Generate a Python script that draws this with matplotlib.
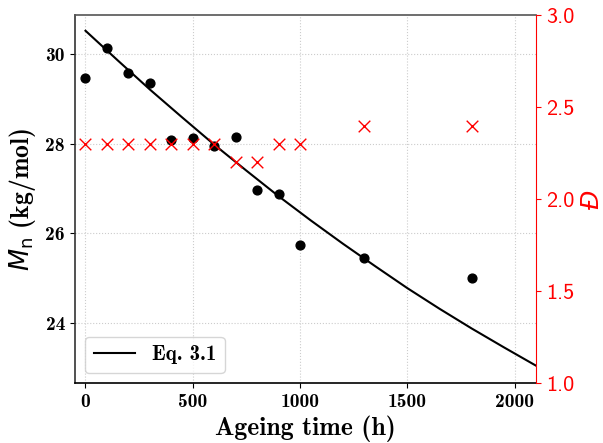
import matplotlib
matplotlib.use('Agg')
import matplotlib.pyplot as plt

# measured data
ageing_time = [0, 100, 200, 300, 400, 500, 600, 700, 800, 900, 1000, 1300, 1800]
mn = [29.46, 30.13, 29.58, 29.35, 28.08, 28.12, 27.96, 28.16, 26.97, 26.88, 25.74, 25.46, 25.00]
dispersity = [2.3, 2.3, 2.3, 2.3, 2.3, 2.3, 2.3, 2.2, 2.2, 2.3, 2.3, 2.4, 2.4]

# Eq. 3.1 curve
eq_time = [0, 150, 300, 450, 600, 750, 900, 1050, 1200, 1350, 1500, 1650, 1800, 1950, 2100]
eq_mn = [30.52, 29.86, 29.21, 28.59, 27.98, 27.40, 26.83, 26.29, 25.77, 25.27,
         24.78, 24.32, 23.88, 23.46, 23.05]

plt.rcParams['mathtext.fontset'] = 'dejavusans'
plt.rcParams['axes.unicode_minus'] = False

fig, ax = plt.subplots(figsize=(6.03, 4.43), dpi=100)
fig.subplots_adjust(left=0.124, right=0.889, bottom=0.135, top=0.966)

ax.plot(eq_time, eq_mn, color='black', lw=1.5, label='Eq. 3.1', zorder=3)
ax.scatter(ageing_time, mn, color='black', s=40, zorder=4)
ax.set_xlim(-50, 2100)
ax.set_ylim(22.66, 30.87)
ax.set_xticks([0, 500, 1000, 1500, 2000])
ax.set_yticks([24, 26, 28, 30])
ax.grid(True, linestyle=':', color='#cccccc', lw=0.8)
ax.set_axisbelow(True)

for lab in ax.get_xticklabels() + ax.get_yticklabels():
    lab.set_fontfamily('cmb10')
    lab.set_fontsize(14)
ax.set_xlabel('Ageing time (h)', fontfamily='cmb10', fontsize=18.5, labelpad=3)
ax.set_ylabel(r'$M_{\mathrm{n}}$ (kg/mol)', fontfamily='cmb10', fontsize=18.5, labelpad=5)
ax.spines['left'].set_color('#333333')
ax.spines['top'].set_color('#555555')
ax.spines['right'].set_visible(False)
ax.spines['left'].set_linewidth(1.2)
ax.spines['bottom'].set_linewidth(1.2)
ax.spines['top'].set_linewidth(1.2)

leg = ax.legend(loc='lower left', prop={'family': 'cmb10', 'size': 15},
                handlelength=2.0, fancybox=True)

ax2 = ax.twinx()
ax2.scatter(ageing_time, dispersity, color='red', marker='x', s=70, linewidths=1.0, zorder=4)
ax2.set_ylim(1.0, 3.0)
ax2.set_yticks([1.0, 1.5, 2.0, 2.5, 3.0])
ax2.tick_params(axis='y', colors='red')
ax2.spines['right'].set_color('red')
ax2.spines['left'].set_visible(False)
ax2.spines['top'].set_visible(False)
ax2.spines['bottom'].set_visible(False)
for lab in ax2.get_yticklabels():
    lab.set_fontfamily('cmss10')
    lab.set_fontsize(16)
ax2.set_ylabel('Đ', color='red', fontfamily='DejaVu Sans', style='italic', fontsize=18, labelpad=4)

plt.savefig('out.png', dpi=100)
